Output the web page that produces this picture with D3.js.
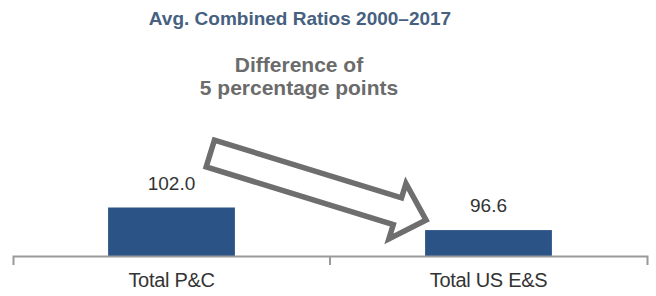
<!DOCTYPE html>
<html>
<head>
<meta charset="utf-8">
<script src="https://cdn.jsdelivr.net/npm/d3@7"></script>
<style>
  html, body { margin: 0; padding: 0; background: #fff; }
  svg { display: block; font-family: "Liberation Sans", Arial, sans-serif; }
</style>
</head>
<body>
<svg id="chart" width="656" height="296"></svg>
<script>
// ---- data ----
const categories = ["Total P&C", "Total US E&S"];
const values = [102.0, 96.6];
const valueLabels = ["102.0", "96.6"];
const titleText = "Avg. Combined Ratios 2000\u20132017";
const annotationLines = ["Difference of", "5 percentage points"];

// ---- layout ----
const W = 656, H = 296;
const axisY = 256;
const svg = d3.select("#chart");

const x = d3.scaleBand()
  .domain(categories)
  .range([13, 647])
  .paddingInner(0.6)
  .paddingOuter(0.3);

const xEdges = d3.scaleBand().domain(categories).range([13, 647]).padding(0);

const y = d3.scaleLinear()
  .domain([90.4, 102])
  .range([axisY, 207.5]);

const data = categories.map((c, i) => ({ cat: c, value: values[i], label: valueLabels[i] }));

// title
svg.append("text")
  .attr("x", 300).attr("y", 25)
  .attr("text-anchor", "middle")
  .attr("font-size", 19).attr("font-weight", "bold")
  .attr("fill", "#46617f")
  .text(titleText);

// annotation
svg.append("text")
  .attr("text-anchor", "middle")
  .attr("font-size", 21).attr("font-weight", "bold")
  .attr("fill", "#6b6b6b")
  .selectAll("tspan")
  .data(annotationLines)
  .join("tspan")
  .attr("x", 299)
  .attr("y", (d, i) => 72 + i * 23)
  .text(d => d);

// bars
svg.append("g")
  .selectAll("rect")
  .data(data)
  .join("rect")
  .attr("x", d => x(d.cat))
  .attr("width", x.bandwidth())
  .attr("y", d => y(d.value))
  .attr("height", d => axisY - y(d.value))
  .attr("fill", "#2b5385");

// value labels
svg.append("g")
  .selectAll("text")
  .data(data)
  .join("text")
  .attr("x", d => x(d.cat) + x.bandwidth() / 2)
  .attr("y", d => y(d.value) - 18)
  .attr("text-anchor", "middle")
  .attr("font-size", 19)
  .attr("fill", "#333")
  .text(d => d.label);

// axis
const axis = d3.axisBottom(x).tickSizeInner(0).tickSizeOuter(9).tickPadding(17);
const ag = svg.append("g").attr("transform", `translate(0,${axisY})`).call(axis);
ag.select(".domain").attr("stroke", "#9a9a9a").attr("stroke-width", 2);
ag.selectAll(".tick text")
  .attr("font-size", 20)
  .attr("font-family", "\"Liberation Sans\", Arial, sans-serif")
  .attr("fill", "#333")
  .attr("letter-spacing", "-0.3px");
// boundary tick between categories
ag.append("line")
  .attr("x1", xEdges(categories[1])).attr("x2", xEdges(categories[1]))
  .attr("y1", 0).attr("y2", 9)
  .attr("stroke", "#9a9a9a").attr("stroke-width", 2);

// hollow block arrow from first bar to second bar
const tail = [x(categories[0]) + x.bandwidth() - 24.6, y(values[0]) - 54];
const tip = [x(categories[1]) + 1, y(values[1]) - 10];
const dx = tip[0] - tail[0], dy = tip[1] - tail[1];
const len = Math.hypot(dx, dy);
const ang = Math.atan2(dy, dx) * 180 / Math.PI;
const shaftHalf = 14, headHalf = 29, headLen = 30;
const pts = [
  [0, -shaftHalf], [len - headLen, -shaftHalf], [len - headLen, -headHalf],
  [len, 0],
  [len - headLen, headHalf], [len - headLen, shaftHalf], [0, shaftHalf]
];
svg.append("path")
  .attr("transform", `translate(${tail[0]},${tail[1]}) rotate(${ang})`)
  .attr("d", d3.line()(pts) + "Z")
  .attr("fill", "#fff")
  .attr("stroke", "#6e6e6e")
  .attr("stroke-width", 5.5)
  .attr("stroke-linejoin", "miter");
</script>
</body>
</html>
